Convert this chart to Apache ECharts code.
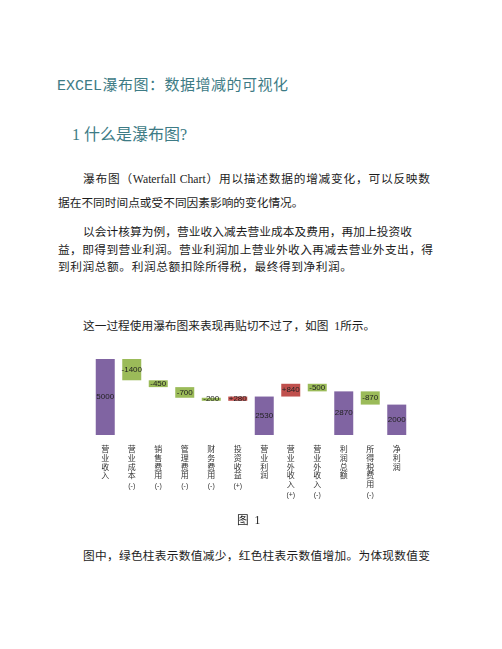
<!DOCTYPE html>
<html>
<head>
<meta charset="utf-8">
<script src="https://cdn.jsdelivr.net/npm/echarts@6/dist/echarts.min.js"></script>
<style>
  html, body { margin: 0; padding: 0; background: #fff; }
  body { position: relative; width: 502px; height: 649px; overflow: hidden; }
  .t {
    position: absolute; white-space: nowrap;
    font-family: "Liberation Serif", "Noto Sans CJK SC", serif;
    font-size: 11.7px; line-height: 14px; color: #1c1c1c;
  }
  .j { text-align: justify; text-align-last: justify; }
  .h { color: #3d7b85; }
  #chart { position: absolute; left: 0; top: 340px; width: 502px; height: 178px; }
</style>
</head>
<body>
<div class="t h j" style="left:57px;top:78px;width:231px;font-size:15px;line-height:18px;font-family:'Liberation Mono','Noto Sans CJK SC',monospace;">EXCEL瀑布图：数据增减的可视化</div>
<div class="t h" style="left:72px;top:126px;font-size:16px;line-height:18px;">1 什么是瀑布图?</div>

<div class="t j" style="left:83px;top:173px;width:347px;">瀑布图（Waterfall Chart）用以描述数据的增减变化，可以反映数</div>
<div class="t j" style="left:58px;top:197px;width:240px;">据在不同时间点或受不同因素影响的变化情况。</div>

<div class="t j" style="left:83px;top:226px;width:329px;">以会计核算为例，营业收入减去营业成本及费用，再加上投资收</div>
<div class="t j" style="left:58px;top:244px;width:375px;">益，即得到营业利润。营业利润加上营业外收入再减去营业外支出，得</div>
<div class="t j" style="left:58px;top:261px;width:294px;">到利润总额。利润总额扣除所得税，最终得到净利润。</div>

<div class="t" style="left:83px;top:320px;">这一过程使用瀑布图来表现再贴切不过了，如图&nbsp;&nbsp;1所示。</div>

<div id="chart"></div>

<div class="t" style="left:237px;top:514px;">图&nbsp;&nbsp;1</div>
<div class="t j" style="left:83px;top:550px;width:347px;">图中，绿色柱表示数值减少，红色柱表示数值增加。为体现数值变</div>

<script>
var categories = ['营业收入', '营业成本（-）', '销售费用（-）', '管理费用（-）', '财务费用（-）', '投资收益（+）',
                  '营业利润', '营业外收入（+）', '营业外收入（-）', '利润总额', '所得税费用（-）', '净利润'];
var values = [5000, -1400, -450, -700, -200, 280, 2530, 840, -500, 2870, -870, 2000];
var isTotal = [true, false, false, false, false, false, true, false, false, true, false, true];

var colTotal = '#8064A2', colDown = '#9BBB59', colUp = '#C0504D';

// running base for the invisible helper bars
var baseData = [], barData = [];
var running = 0;
values.forEach(function (v, i) {
    if (isTotal[i]) {
        baseData.push(0);
        barData.push({ value: v, label: v + '', itemStyle: { color: colTotal } });
        running = v;
    } else if (v < 0) {
        baseData.push(running + v);
        barData.push({ value: -v, label: v + '', itemStyle: { color: colDown } });
        running += v;
    } else {
        baseData.push(running);
        barData.push({ value: v, label: '+' + v, itemStyle: { color: colUp } });
        running += v;
    }
});

function verticalName(name) {
    var m = name.match(/^(.*?)（(.)）$/);
    var main = m ? m[1] : name;
    var s = main.split('').join('\n');
    if (m) s += '\n{p|(' + m[2] + ')}';
    return s;
}

var chart = echarts.init(document.getElementById('chart'), null, { renderer: 'canvas' });
chart.setOption({
    animation: false,
    grid: { left: 92, top: 19, width: 318, height: 76 },
    xAxis: {
        type: 'category',
        data: categories,
        axisLine: { show: false },
        axisTick: { show: false },
        axisLabel: {
            interval: 0,
            margin: 10,
            fontSize: 8,
            lineHeight: 8.6,
            color: '#333',
            fontFamily: 'Noto Sans CJK SC',
            formatter: verticalName,
            rich: { p: { fontSize: 7, lineHeight: 14, color: '#333', fontFamily: 'Liberation Sans' } }
        }
    },
    yAxis: { type: 'value', show: false, min: 0, max: 5000, splitLine: { show: false } },
    series: [
        {
            type: 'bar', stack: 'w', barWidth: 19, silent: true,
            itemStyle: { color: 'transparent' },
            data: baseData
        },
        {
            type: 'bar', stack: 'w', barWidth: 19,
            label: {
                show: true, position: 'inside', fontSize: 8, color: '#222',
                fontFamily: 'Liberation Sans',
                formatter: function (p) { return p.data.label; }
            },
            data: barData
        }
    ]
});
</script>
</body>
</html>
